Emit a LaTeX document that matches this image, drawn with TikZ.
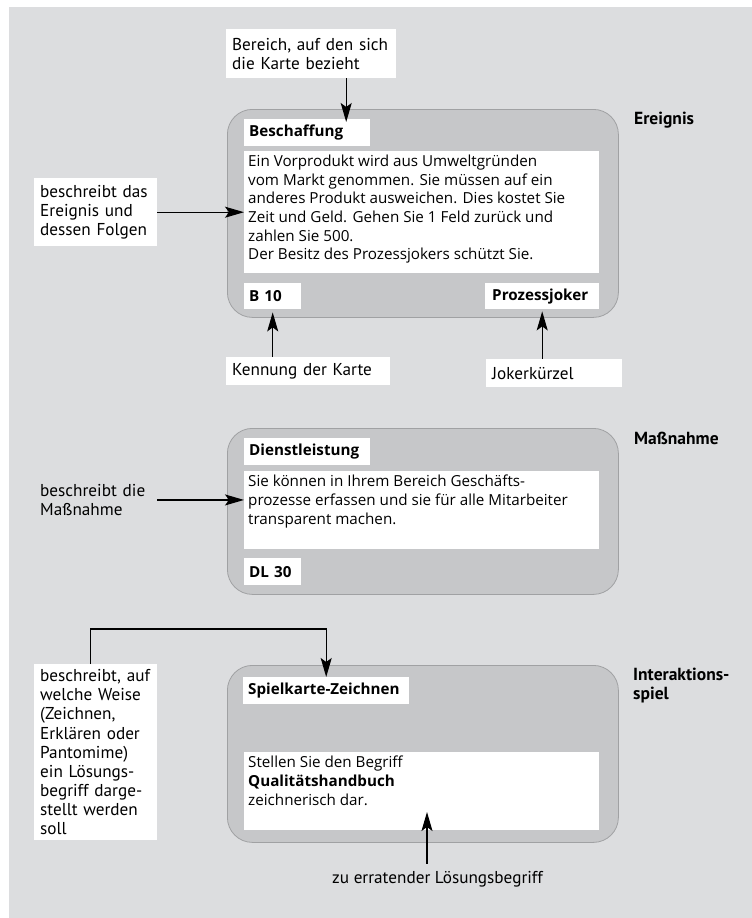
\documentclass[tikz,border=0pt]{standalone}
\usepackage{fontspec}
\setmainfont{Open Sans}
\newfontfamily\lblfont{PT Sans}
\usetikzlibrary{arrows.meta, positioning, calc}

\definecolor{bggray}{RGB}{220,221,223}
\definecolor{cardgray}{RGB}{198,199,201}
\definecolor{cardline}{RGB}{160,161,163}

\newcommand{\cardtext}[3]{\begin{minipage}[t][#2][t]{#1}#3\end{minipage}}

\tikzset{
  card/.style={draw=cardline, fill=cardgray, rounded corners=25pt, line width=0.8pt, anchor=north west, inner sep=0pt},
  tagbox/.style={fill=white, anchor=north west, inner xsep=5pt, inner ysep=0pt, minimum height=27pt, align=left, font=\fontsize{15.2}{18.6}\selectfont\bfseries},
  textbox/.style={fill=white, anchor=north west, inner sep=4pt, font=\fontsize{15.2}{18.6}\selectfont},
  lblbox/.style={fill=white, anchor=north west, inner xsep=6pt, inner ysep=0pt, align=left, font=\lblfont\fontsize{17.2}{19.1}\selectfont},
  sidelbl/.style={anchor=base west, inner sep=0pt, align=left, font=\lblfont\bfseries\fontsize{17.5}{18.5}\selectfont},
  arrow/.style={line width=1.2pt, -{Stealth[length=19pt, width=11pt, inset=4pt]}}
}

\begin{document}
\begin{tikzpicture}[x=1pt, y=-1pt]
  \useasboundingbox (0,0) rectangle (752,918);
  \fill[bggray] (9,7) rectangle (752,918);

  % Ereignis
  \node[lblbox, text width=158pt, minimum height=49pt] (bereich) at (226,29) {Bereich, auf den sich\\die Karte bezieht};
  \node[card, minimum width=391pt, minimum height=208pt] (ereignis) at (227,109) {};
  \node[tagbox, text width=116pt] (beschaffung) at (244,119) {Beschaffung};
  \node[textbox] (ereigtext) at (244,151) {\cardtext{347pt}{114pt}{Ein Vorprodukt wird aus Umweltgründen\\vom Markt genommen. Sie müssen auf ein\\anderes Produkt ausweichen. Dies kostet Sie\\Zeit und Geld. Gehen Sie 1 Feld zurück und\\zahlen Sie 500.\\Der Besitz des Prozessjokers schützt Sie.}};
  \node[tagbox, text width=47pt, minimum height=26pt] (b10) at (244,283) {B 10};
  \node[tagbox, text width=100pt, minimum height=26pt, inner xsep=7pt] (joker) at (485,283) {Prozessjoker};
  \node[sidelbl] (ereignislbl) at (634,124) {Ereignis};
  \node[lblbox, text width=111pt, minimum height=68pt] (folgen) at (34,178) {beschreibt das\\Ereignis und\\dessen Folgen};
  \node[lblbox, text width=152pt, minimum height=28pt] (kennung) at (226,357) {Kennung der Karte};
  \node[lblbox, text width=124pt, minimum height=28pt] (jokerlbl) at (486,359) {Jokerkürzel};

  \draw[arrow, shorten >=-3pt] ([xshift=35pt]bereich.south) -- ([xshift=35pt]bereich.south |- beschaffung.north);
  \draw[arrow] (folgen.east) -- (folgen.east -| ereigtext.west);
  \draw[arrow, shorten >=3pt] (kennung.north -| b10.center) -- (b10.south);
  \draw[arrow, shorten >=2pt] (jokerlbl.north -| joker.center) -- (joker.south);

  % Massnahme
  \node[card, minimum width=391pt, minimum height=166pt] (massnahme) at (227,428) {};
  \node[tagbox, text width=116pt] (dienst) at (244,438) {Dienstleistung};
  \node[textbox] (dltext) at (244,471) {\cardtext{347pt}{70pt}{Sie können in Ihrem Bereich Geschäfts-\\prozesse erfassen und sie für alle Mitarbeiter\\transparent machen.}};
  \node[tagbox, text width=47pt] (dl30) at (244,558) {DL 30};
  \node[sidelbl] (massnahmelbl) at (634,444) {Maßnahme};
  \node[lblbox, fill=none, text width=111pt] (mnlbl) at (34,484) {beschreibt die\\Maßnahme};

  \draw[arrow] (mnlbl.east) -- (mnlbl.east -| dltext.west);

  % Interaktionsspiel
  \node[card, minimum width=391pt, minimum height=177pt] (interaktion) at (227,665) {};
  \node[tagbox, text width=156pt] (zeichnen) at (243,677) {Spielkarte-Zeichnen};
  \node[textbox] (ztext) at (244,752) {\cardtext{347pt}{70pt}{Stellen Sie den Begriff\\\textbf{Qualitätshandbuch}\\zeichnerisch dar.}};
  \node[sidelbl, anchor=north west] (interaktionlbl) at (633,668) {Interaktions-\\spiel};
  \node[lblbox, text width=111pt, minimum height=176pt] (weise) at (34,664) {beschreibt, auf\\welche Weise\\(Zeichnen,\\Erklären oder\\Pantomime)\\ein Lösungs-\\begriff darge-\\stellt werden\\soll};
  \node[anchor=base west, inner sep=0pt, font=\lblfont\fontsize{17.2}{19.1}\selectfont] (loesung) at (332,883) {zu erratender Lösungsbegriff};
  \coordinate (tipL) at (427,812);

  \draw[arrow] ([xshift=-5pt]weise.north) -- ++(0,-35) -| (zeichnen.north);
  \draw[arrow] ($(loesung.north -| tipL)+(0,-7)$) -- (tipL);
\end{tikzpicture}
\end{document}
